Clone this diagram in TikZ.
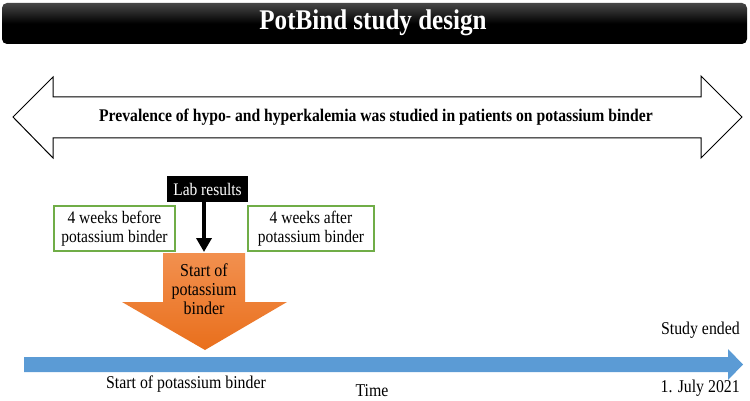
\documentclass[tikz,border=0pt]{standalone}
\usepackage{fontspec}
\setmainfont[FakeStretch=0.88]{Liberation Serif}
\usetikzlibrary{arrows.meta}
\definecolor{orangelight}{HTML}{F2904F}
\definecolor{orangedark}{HTML}{E96F1C}
\definecolor{timeblue}{HTML}{5B9BD5}
\definecolor{boxgreen}{HTML}{70AD47}
\tikzset{
  lbl/.style={inner sep=0pt, font=\fontsize{18}{19}\selectfont},
  greenbox/.style={draw=boxgreen, line width=1.2pt, fill=white, align=center,
    minimum height=45, inner sep=2pt, font=\fontsize{17.6}{19}\selectfont},
}
\begin{document}
\begin{tikzpicture}[x=1pt,y=-1pt]
\useasboundingbox (0,0) rectangle (750,401);
% title bar
\shade[top color=black!72, bottom color=black, middle color=black, rounded corners=5pt]
  (2,3) rectangle (747,44);
\node[text=white, font=\bfseries\fontsize{28.5}{30}\selectfont] (title) at (373,23) {PotBind study design};
% double arrow
\draw[line width=1pt, fill=white] (13,117) -- (53,77) -- (53,97) -- (701,97) -- (701,76) -- (742,117)
  -- (701,158) -- (701,138) -- (53,138) -- (53,158) -- cycle;
\node[font=\bfseries\fontsize{17.8}{20}\selectfont] (prev) at (376,117)
  {Prevalence of hypo- and hyperkalemia was studied in patients on potassium binder};
% orange arrow
\shade[top color=orangelight, bottom color=orangedark]
  (163,253) -- (245,253) -- (245,302) -- (287,302) -- (205,350) -- (122,302) -- (163,302) -- cycle;
\coordinate (orangetop) at (204,252);
\node[align=center, font=\fontsize{18.2}{19}\selectfont] (start) at (204,289) {Start of\\potassium\\binder};
% lab results
\node[fill=black, text=white, minimum width=81, minimum height=26, inner sep=0pt,
  font=\fontsize{17.6}{18}\selectfont] (lab) at (207.5,189) {Lab results};
\draw[line width=3.6pt, -{Triangle[width=15pt,length=14pt]}] (lab.south -| orangetop) -- (orangetop);
% green boxes
\node[greenbox, minimum width=121] (before) at (114.5,228.5) {4 weeks before\\potassium binder};
\node[greenbox, minimum width=126] (after) at (311,228.5) {4 weeks after\\potassium binder};
% time arrow
\fill[timeblue] (24,357) -- (728,357) -- (728,349) -- (743,364.5) -- (728,380) -- (728,372) -- (24,372) -- cycle;
\node[lbl, anchor=base] (startlbl) at (186,388) {Start of potassium binder};
\node[lbl, anchor=base] (time) at (372,396) {Time};
\node[lbl, anchor=base east] (july) at (740,392) {1. July 2021};
\node[lbl, anchor=base east] (ended) at (740,334) {Study ended};
\end{tikzpicture}
\end{document}
